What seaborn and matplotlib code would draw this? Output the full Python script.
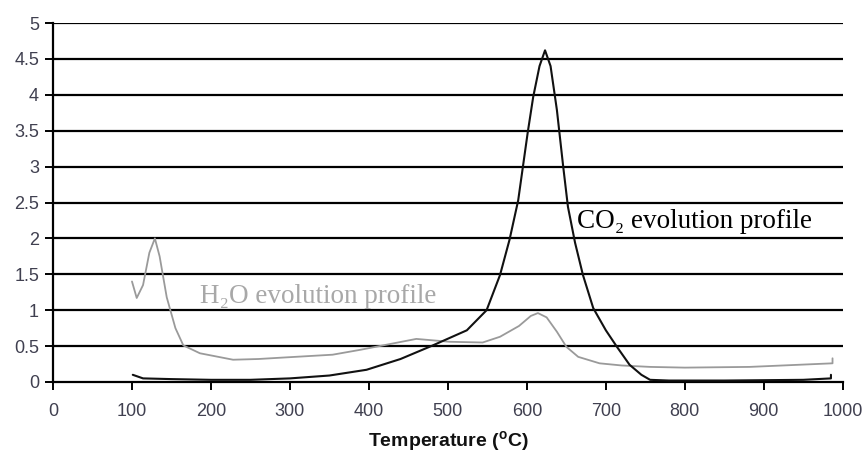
import matplotlib
matplotlib.use("Agg")
import matplotlib.pyplot as plt
import seaborn as sns
import pandas as pd

# Data
h2o_temp = [100, 106, 114, 122, 129, 135, 144, 155, 165, 186, 228, 260, 291, 354, 390, 418, 460,
            502, 544, 566, 590, 605, 614, 625, 638, 650, 665, 692, 720, 756, 800, 882, 945, 987, 987]
h2o_vals = [1.4, 1.17, 1.35, 1.8, 2.0, 1.75, 1.18, 0.75, 0.51, 0.4, 0.31, 0.32, 0.34, 0.38, 0.45, 0.51, 0.6,
            0.56, 0.55, 0.63, 0.78, 0.92, 0.96, 0.9, 0.7, 0.49, 0.35, 0.26, 0.23, 0.21, 0.2, 0.21, 0.24, 0.26, 0.33]

co2_temp = [101, 114, 150, 200, 250, 300, 350, 397, 440, 481, 524, 549, 566, 578, 589, 601, 608, 616,
            623, 630, 638, 646, 652, 661, 671, 684, 700, 714, 730, 745, 756, 780, 850, 950, 985, 985]
co2_vals = [0.1, 0.05, 0.04, 0.03, 0.03, 0.05, 0.09, 0.17, 0.32, 0.51, 0.72, 1.0, 1.49, 1.98, 2.53, 3.47, 3.97, 4.4,
            4.62, 4.4, 3.79, 3.0, 2.44, 1.94, 1.49, 1.03, 0.72, 0.49, 0.24, 0.1, 0.03, 0.02, 0.02, 0.03, 0.05, 0.1]

x_ticks = [0, 100, 200, 300, 400, 500, 600, 700, 800, 900, 1000]
y_ticks = [0, 0.5, 1, 1.5, 2, 2.5, 3, 3.5, 4, 4.5, 5]
y_labels = ["0", "0.5", "1", "1.5", "2", "2.5", "3", "3.5", "4", "4.5", "5"]

sns.set_style("white")
plt.rcParams['font.family'] = ['Liberation Sans', 'DejaVu Sans']

fig = plt.figure(figsize=(8.66, 4.59), dpi=100)
ax = fig.add_axes([0.0612, 0.1678, 0.912, 0.782])

h2o = pd.DataFrame({"T": h2o_temp, "v": h2o_vals})
co2 = pd.DataFrame({"T": co2_temp, "v": co2_vals})

for y in y_ticks[1:]:
    ax.axhline(y, color="black", lw=1.6, zorder=1)

sns.lineplot(data=h2o, x="T", y="v", ax=ax, color="#9a9a9a", lw=1.3, sort=False, estimator=None, zorder=3)
sns.lineplot(data=co2, x="T", y="v", ax=ax, color="#111111", lw=1.5, sort=False, estimator=None, zorder=4)

ax.set_xlim(0, 1000)
ax.set_ylim(0, 5)
ax.set_xticks(x_ticks)
ax.set_yticks(y_ticks)
ax.set_yticklabels(y_labels)
ax.tick_params(axis="both", direction="out", length=6, width=1.4, color="black",
               labelsize=13, labelcolor="#404050", left=True, bottom=True)
ax.tick_params(axis="x", pad=9)
ax.tick_params(axis="y", pad=4)
for s in ["top", "right"]:
    ax.spines[s].set_visible(False)
for s in ["left", "bottom"]:
    ax.spines[s].set_color("black")
    ax.spines[s].set_linewidth(1.6)

ax.set_ylabel("")
ax.set_xlabel("Temperature ($^{\\mathregular{o}}$C)", fontsize=14, fontweight="bold",
              color="#111111", labelpad=7)

ax.text(663, 2.23, "CO₂ evolution profile", fontsize=19.5, family="Liberation Serif",
        color="black", va="center", ha="left")
ax.text(186, 1.19, "H₂O evolution profile", fontsize=19.5, family="Liberation Serif",
        color="#a8a8a8", va="center", ha="left")

fig.savefig("out.png", dpi=100)
